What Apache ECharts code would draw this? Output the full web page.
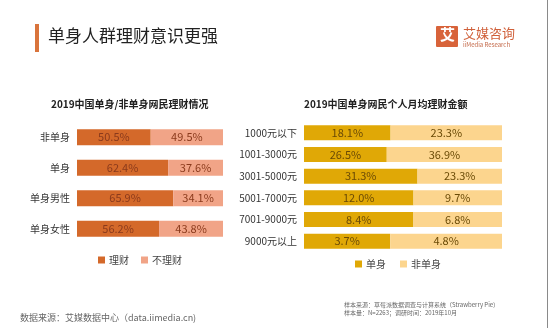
<!DOCTYPE html>
<html>
<head>
<meta charset="utf-8">
<script src="https://cdn.jsdelivr.net/npm/echarts@6/dist/echarts.min.js"></script>
<style>
  html, body { margin: 0; padding: 0; background: #fff; }
  #chart { width: 550px; height: 328px; }
</style>
</head>
<body>
<div id="chart"></div>
<script>
// Left panel: share of netizens who manage money, by group
const groupCategories = ['非单身', '单身', '单身男性', '单身女性'];
const investShare = [50.5, 62.4, 65.9, 56.2];
const noInvestShare = [49.5, 37.6, 34.1, 43.8];

// Right panel: monthly amount put into investments, single vs. non-single
const amountCategories = ['1000元以下', '1001-3000元', '3001-5000元', '5001-7000元', '7001-9000元', '9000元以上'];
const singleShare = [18.1, 26.5, 31.3, 12.0, 8.4, 3.7];
const nonSingleShare = [23.3, 36.9, 23.3, 9.7, 6.8, 4.8];

const FONT = '"Noto Sans CJK SC", "Noto Sans", sans-serif';

// each row of the right panel is drawn as a 100% stacked bar
const rowTotals = singleShare.map((v, i) => v + nonSingleShare[i]);
const toRowPercent = (arr) => arr.map((v, i) => ({ value: v / rowTotals[i] * 100, raw: v }));

const pct = (p) => (p.data && p.data.raw !== undefined ? p.data.raw : p.value).toFixed(1) + '%';

const chart = echarts.init(document.getElementById('chart'), null, { renderer: 'canvas' });

const leftLabel = { show: true, position: 'inside', color: '#8a3a1c', fontSize: 11, fontFamily: FONT, formatter: pct };
const rightLabel = { show: true, position: 'inside', color: '#6a4a06', fontSize: 11, fontFamily: FONT, formatter: pct };

chart.setOption({
  backgroundColor: '#ffffff',
  animation: false,
  textStyle: { fontFamily: FONT },
  grid: [
    { left: 77, right: 327, top: 122, height: 122 },
    { left: 304, right: 48, top: 122, height: 130 }
  ],
  xAxis: [
    { gridIndex: 0, type: 'value', min: 0, max: 100, show: false },
    { gridIndex: 1, type: 'value', min: 0, max: 100, show: false }
  ],
  yAxis: [
    {
      gridIndex: 0, type: 'category', data: groupCategories, inverse: true,
      axisLine: { show: false }, axisTick: { show: false },
      axisLabel: { color: '#333', fontSize: 10, margin: 7, fontFamily: FONT }
    },
    {
      gridIndex: 1, type: 'category', data: amountCategories, inverse: true,
      axisLine: { show: false }, axisTick: { show: false },
      axisLabel: { color: '#333', fontSize: 10, margin: 7, fontFamily: FONT }
    }
  ],
  legend: [
    {
      data: ['理财', '不理财'], left: 93, top: 250, itemWidth: 7, itemHeight: 7, itemGap: 12,
      icon: 'rect', textStyle: { color: '#444', fontSize: 10, fontFamily: FONT, padding: [0, 0, 0, -1] }
    },
    {
      data: ['单身', '非单身'], left: 350, top: 254, itemWidth: 7, itemHeight: 7, itemGap: 14,
      icon: 'rect', textStyle: { color: '#444', fontSize: 10, fontFamily: FONT, padding: [0, 0, 0, -1] }
    }
  ],
  series: [
    {
      name: '理财', type: 'bar', xAxisIndex: 0, yAxisIndex: 0, stack: 'left',
      barWidth: 16, data: investShare, itemStyle: { color: '#d4692a' }, label: leftLabel
    },
    {
      name: '不理财', type: 'bar', xAxisIndex: 0, yAxisIndex: 0, stack: 'left',
      barWidth: 16, data: noInvestShare, itemStyle: { color: '#f1a487' }, label: leftLabel
    },
    {
      name: '单身', type: 'bar', xAxisIndex: 1, yAxisIndex: 1, stack: 'right',
      barWidth: 15, data: toRowPercent(singleShare), itemStyle: { color: '#e0a806' }, label: rightLabel
    },
    {
      name: '非单身', type: 'bar', xAxisIndex: 1, yAxisIndex: 1, stack: 'right',
      barWidth: 15, data: toRowPercent(nonSingleShare), itemStyle: { color: '#fcd58e' }, label: rightLabel
    }
  ],
  graphic: [
    // page header
    { type: 'rect', shape: { x: 35, y: 24, width: 4, height: 28 }, style: { fill: '#d9743c' } },
    { type: 'text', left: 48, top: 27, style: { text: '单身人群理财意识更强', fill: '#222', font: '17px ' + FONT } },
    // brand mark
    { type: 'rect', shape: { x: 436, y: 26, width: 22, height: 21, r: 1 }, style: { fill: '#d8633a' } },
    { type: 'text', left: 440, top: 27, style: { text: '艾', fill: '#fff', font: 'bold 15px ' + FONT } },
    { type: 'text', left: 463, top: 27, style: { text: '艾媒咨询', fill: '#d0603a', font: '13px ' + FONT } },
    { type: 'text', left: 463, top: 42, style: { text: 'iiMedia Research', fill: '#c46a4a', font: '6px ' + FONT } },
    // panel titles
    { type: 'text', left: 51, top: 99, style: { text: '2019中国单身/非单身网民理财情况', fill: '#222', font: 'bold 10px ' + FONT } },
    { type: 'text', left: 304, top: 99, style: { text: '2019中国单身网民个人月均理财金额', fill: '#222', font: 'bold 10px ' + FONT } },
    // sources
    { type: 'text', left: 20, top: 313, style: { text: '数据来源：艾媒数据中心（data.iimedia.cn)', fill: '#666', font: '9px ' + FONT } },
    { type: 'text', left: 344, top: 302, style: { text: '样本来源：草莓派数据调查与计算系统（Strawberry Pie)', fill: '#666', font: '6px ' + FONT } },
    { type: 'text', left: 344, top: 310, style: { text: '样本量：N=2263；调研时间：2019年10月', fill: '#666', font: '6px ' + FONT } },
    // right border line
    { type: 'line', shape: { x1: 547.5, y1: 0, x2: 547.5, y2: 328 }, style: { stroke: '#8a8a8a', lineWidth: 1 } }
  ]
});
</script>
</body>
</html>
